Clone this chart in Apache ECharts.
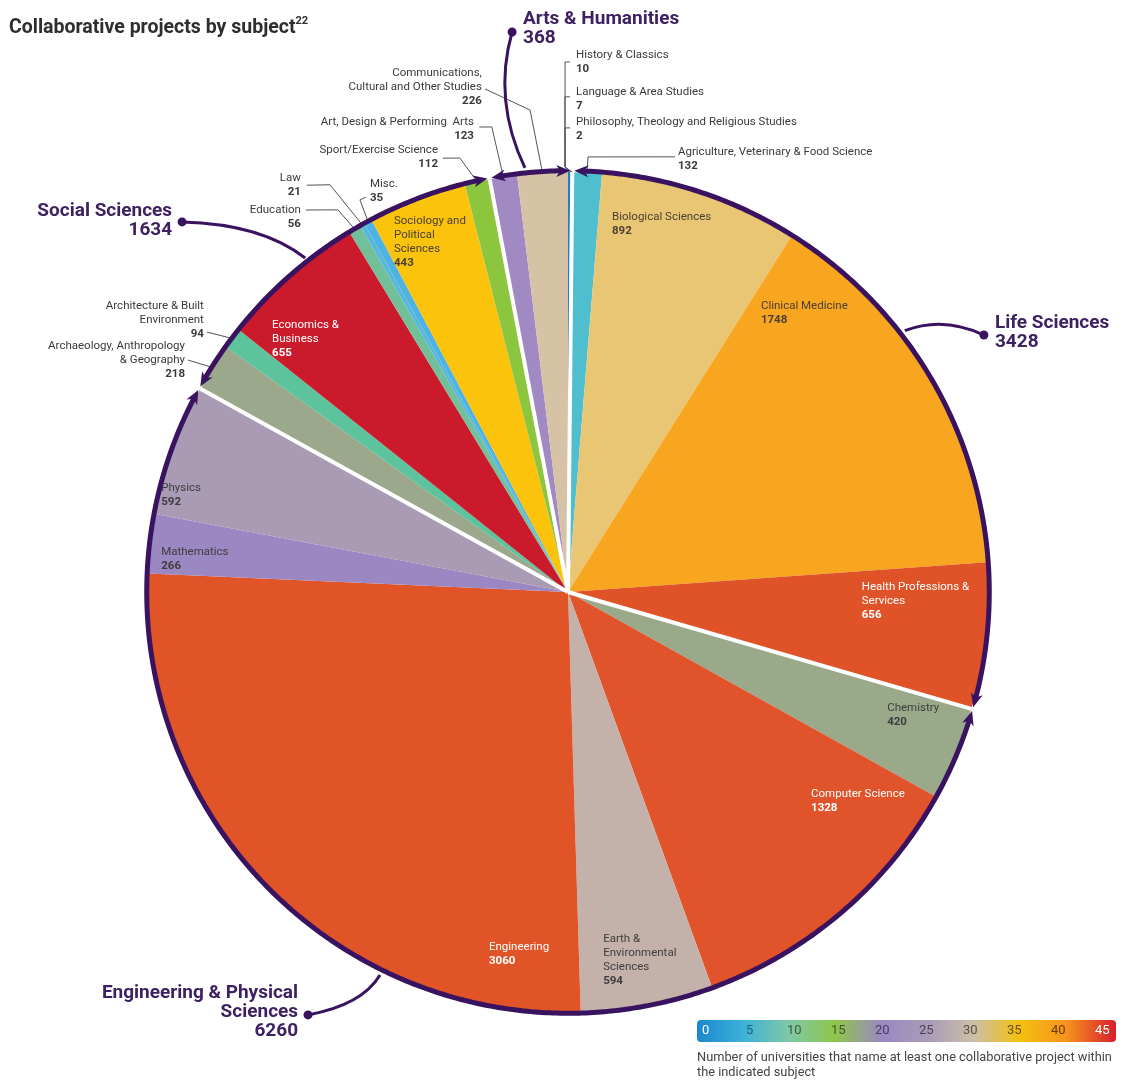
<!DOCTYPE html>
<html>
<head>
<meta charset="utf-8">
<script src="https://cdn.jsdelivr.net/npm/echarts@6/dist/echarts.min.js"></script>
<style>
  html, body { margin: 0; padding: 0; background: #fff; }
  #chart { width: 1122px; height: 1086px; }
</style>
</head>
<body>
<div id="chart"></div>
<script>
// subjects clockwise from 12 o'clock
const subjects = [
  'History & Classics', 'Language & Area Studies', 'Philosophy, Theology and Religious Studies',
  'Agriculture, Veterinary & Food Science', 'Biological Sciences', 'Clinical Medicine',
  'Health Professions &\nServices', 'Chemistry', 'Computer Science',
  'Earth &\nEnvironmental\nSciences', 'Engineering', 'Mathematics', 'Physics',
  'Archaeology, Anthropology\n& Geography', 'Architecture & Built\nEnvironment',
  'Economics &\nBusiness', 'Education', 'Law', 'Misc.', 'Sociology and\nPolitical\nSciences',
  'Sport/Exercise Science', 'Art, Design & Performing  Arts', 'Communications,\nCultural and Other Studies'
]
const projects = [10, 7, 2, 132, 892, 1748, 656, 420, 1328, 594, 3060, 266, 592, 218, 94, 655, 56, 21, 35, 443, 112, 123, 226]

const groupNames = ['Arts & Humanities', 'Life Sciences', 'Engineering & Physical\nSciences', 'Social Sciences']
// first / last subject index of each group (arts wraps round the top)
const groupRanges = [[21, 2], [3, 6], [7, 12], [13, 20]]

const colorTicks = ['0', '5', '10', '15', '20', '25', '30', '35', '40', '45']

// --- styles ---
const sliceColors = [
  '#1f80c8', '#2e9ad6', '#1670bc', '#4fbfcf', '#e9c674', '#f8a51f', '#e05328', '#9aa98a',
  '#e1532a', '#c4b2aa', '#e05428', '#9b87c1', '#aa9bb5', '#9ba88c', '#5cc39d', '#cc1a2d',
  '#72c09a', '#58b8dc', '#4fb3e2', '#fcc30d', '#8cc63f', '#a18ac4', '#d6c3a5'
]
const RING = '#3a1360'
const DARK = '#4a4034'
const GREY = '#3d3d3d'
const OUT = '#3a3a3a'
// label placement: [radius fraction, degrees clockwise from top]
const labelPlace = [
  { at: [1.295, 0.84], leader: [[1.262, 0.22], [1.262, -0.32], [1.012, -0.4]] },
  { at: [1.207, 0.9], leader: [[1.179, 0.23], [1.179, -0.35], [1.012, -0.4]] },
  { at: [1.136, 0.96], leader: [[1.105, 0.25], [1.105, -0.37], [1.012, -0.4]] },
  { at: [1.096, 13.82], leader: [[1.067, 13.82], [1.037, 2.63]] },
  { at: [0.916, 6.57], color: DARK },
  { at: [0.835, 33.37], color: DARK },
  { at: [0.7, 87.7], color: '#fff' },
  { at: [0.803, 108.86], color: GREY },
  { at: [0.742, 128.75], color: '#fff' },
  { at: [0.814, 174.1], color: GREY },
  { at: [0.85, 192.79], color: '#fff' },
  { at: [0.975, 276.59], color: GREY },
  { at: [1.004, 285.26], color: GREY },
  { at: [1.093, 303.45], align: 'right', leader: [[1.06, 301.4]] },
  { at: [1.113, 308.83], align: 'right', leader: [[1.059, 305.76]] },
  { at: [0.96, 312.79], color: '#fff' },
  { at: [1.123, 325.5], align: 'right', leader: [[1.103, 325.55], [1.062, 328.95]] },
  { at: [1.187, 327.6], align: 'right', leader: [[1.151, 327.3], [1.123, 329.7]] },
  { at: [1.095, 334.5], leader: [[1.056, 332.9], [1.057, 332.05]] },
  { at: [0.991, 335.28], color: DARK },
  { at: [1.113, 343.85], align: 'right', leader: [[1.075, 343.9], [1.065, 346.0]] },
  { at: [1.158, 348.85], align: 'right', leader: [[1.127, 349.2], [1.122, 350.7]] },
  { at: [1.269, 350.7], align: 'right', leader: [[1.214, 350.63], [1.151, 355.5]] }
]
const groupPlace = [
  { at: [1.39, 355.58], align: 'left', dot: [1.34, 354.3], cp: [1.185, 351.3], end: [1.015, 354.2] },
  { at: [1.213, 56.93], align: 'left', dot: [1.164, 58.29], cp: [1.109, 53.64], end: [1.015, 52.2] },
  { at: [1.133, 214.56], align: 'right', dot: [1.182, 211.58], cp: [1.099, 206.5], end: [1.016, 206.14] },
  { at: [1.323, 314.56], align: 'right', dot: [1.273, 313.8], cp: [1.14, 320.25], end: [1.012, 321.8] }
]

const total = projects.reduce((a, b) => a + b, 0)
const cum = []
projects.reduce((acc, v, i) => { cum[i] = acc; return acc + v }, 0)
const deg = d => d / 360 * total
const FONT = 'Roboto'

function sum(g) {
  let s = 0
  for (let i = g[0]; ; i = (i + 1) % projects.length) {
    s += projects[i]
    if (i === g[1]) break
  }
  return s
}

function arrow(tip, back) {
  const dx = tip[0] - back[0], dy = tip[1] - back[1]
  const len = Math.hypot(dx, dy)
  const ux = dx / len, uy = dy / len, nx = -uy, ny = ux
  return {
    type: 'polygon',
    shape: { points: [
      [tip[0] + ux, tip[1] + uy],
      [back[0] + nx * 6, back[1] + ny * 6],
      [back[0] + ux * 4, back[1] + uy * 4],
      [back[0] - nx * 6, back[1] - ny * 6]
    ] },
    style: { fill: RING }
  }
}

function renderOverlay(params, api) {
  const P = (r, v) => api.coord([r, v])
  const PD = (r, d) => api.coord([r, deg(d)])
  const c0 = P(0, 0), t0 = P(1, 0)
  const R = Math.hypot(t0[0] - c0[0], t0[1] - c0[1])
  const perPx = total / (2 * Math.PI * R)
  const kids = []

  // white separators between groups
  groupRanges.forEach(g => {
    const a = P(0, cum[g[0]]), b = P(1, cum[g[0]])
    kids.push({ type: 'line', shape: { x1: a[0], y1: a[1], x2: b[0], y2: b[1] }, style: { stroke: '#fff', lineWidth: 4 } })
  })

  // slice labels
  subjects.forEach((name, i) => {
    const lp = labelPlace[i]
    const col = lp.color || OUT
    if (lp.leader) {
      const pts = lp.leader.map(p => PD(p[0], p[1]))
      pts.push(P(1, cum[i] + projects[i] / 2))
      kids.push({ type: 'polyline', shape: { points: pts }, style: { stroke: '#555', lineWidth: 1, fill: 'none' } })
    }
    const t = PD(lp.at[0], lp.at[1])
    const txt = name.split('\n').map(l => '{n|' + l + '}').join('\n') + '\n{v|' + projects[i] + '}'
    kids.push({
      type: 'text', x: t[0], y: t[1],
      style: {
        text: txt, align: lp.align || 'left', verticalAlign: 'top',
        rich: {
          n: { fontSize: 11.5, fontFamily: FONT, lineHeight: 14, fill: col },
          v: { fontSize: 11.5, fontFamily: FONT, fontWeight: 'bold', lineHeight: 14, fill: col }
        }
      }
    })
  })

  // rim arcs with arrow heads
  const rr = 1.003, gap = 3 * perPx, head = 13 * perPx
  groupRanges.forEach(g => {
    let s = cum[g[0]]
    const e = cum[g[1]] + projects[g[1]]
    if (s > e) s -= total
    const a0 = s + gap + head * 0.6, a1 = e - gap - head * 0.6
    const n = Math.ceil((a1 - a0) / deg(0.5))
    const pts = []
    for (let k = 0; k <= n; k++) pts.push(P(rr, a0 + (a1 - a0) * k / n))
    kids.push({ type: 'polyline', shape: { points: pts }, style: { stroke: RING, lineWidth: 5, fill: 'none' } })
    kids.push(arrow(P(rr, s + gap), P(rr, s + gap + head)))
    kids.push(arrow(P(rr, e - gap), P(rr, e - gap - head)))
  })

  // group labels
  groupPlace.forEach((gp, gi) => {
    const d = PD(gp.dot[0], gp.dot[1]), c = PD(gp.cp[0], gp.cp[1]), e = PD(gp.end[0], gp.end[1])
    kids.push({ type: 'bezierCurve', shape: { x1: d[0], y1: d[1], x2: e[0], y2: e[1], cpx1: c[0], cpy1: c[1] }, style: { stroke: RING, lineWidth: 3, fill: 'none' } })
    kids.push({ type: 'circle', shape: { cx: d[0], cy: d[1], r: 4.5 }, style: { fill: RING } })
    const t = PD(gp.at[0], gp.at[1])
    kids.push({
      type: 'text', x: t[0], y: t[1],
      style: {
        text: groupNames[gi] + '\n' + sum(groupRanges[gi]), align: gp.align, verticalAlign: 'top',
        fill: '#3d2160', fontSize: 19, fontWeight: 'bold', fontFamily: FONT, lineHeight: 19
      }
    })
  })

  return { type: 'group', children: kids }
}

const chart = echarts.init(document.getElementById('chart'))

const barX = 697, barY = 1020, barW = 419, barH = 22
const tickTextColors = ['#fff', '#1d5f86', '#3f5a3f', '#3e5a2a', '#4a3c66', '#4d4358', '#5a5046', '#6a5200', '#6b3a00', '#fff']

chart.setOption({
  animation: false,
  backgroundColor: '#fff',
  title: {
    text: '{t|Collaborative projects by subject}{s|22}',
    left: 4, top: 11,
    textStyle: {
      rich: {
        t: { fontSize: 19.5, fontWeight: 'bold', color: '#2e2e2e', fontFamily: FONT, lineHeight: 24 },
        s: { fontSize: 11, fontWeight: 'bold', color: '#2e2e2e', fontFamily: FONT, verticalAlign: 'top', lineHeight: 24 }
      }
    }
  },
  polar: { center: [568, 592], radius: 420 },
  angleAxis: { type: 'value', min: 0, max: total, startAngle: 90, clockwise: true, show: false },
  radiusAxis: { type: 'value', min: 0, max: 1, show: false },
  graphic: [
    {
      type: 'rect', left: barX, top: barY,
      shape: { width: barW, height: barH, r: 4 },
      style: {
        fill: new echarts.graphic.LinearGradient(0, 0, 1, 0, [
          { offset: 0, color: '#1b88cf' },
          { offset: 0.11, color: '#3db1d8' },
          { offset: 0.22, color: '#7ec8a6' },
          { offset: 0.33, color: '#8fc64a' },
          { offset: 0.44, color: '#9a88c2' },
          { offset: 0.55, color: '#a99bb8' },
          { offset: 0.66, color: '#cbbfa8' },
          { offset: 0.77, color: '#f4c10f' },
          { offset: 0.88, color: '#f7941e' },
          { offset: 1, color: '#d81f2c' }
        ])
      }
    },
    ...colorTicks.map((t, k) => ({
      type: 'text', left: barX + 8 + k * 44 - (t.length > 1 ? 6 : 3), top: barY + 4,
      style: { text: t, fill: tickTextColors[k], fontSize: 13, fontFamily: FONT }
    })),
    {
      type: 'text', left: barX, top: barY + 30,
      style: {
        text: 'Number of universities that name at least one collaborative project within\nthe indicated subject',
        fill: '#444', fontSize: 12.8, fontFamily: FONT, lineHeight: 15
      }
    }
  ],
  series: [
    {
      type: 'pie',
      center: [568, 592],
      radius: 420,
      startAngle: 90,
      clockwise: true,
      silent: true,
      z: 1,
      label: { show: false },
      labelLine: { show: false },
      emphasis: { disabled: true },
      itemStyle: { borderWidth: 0 },
      data: subjects.map((s, i) => ({ name: s, value: projects[i], itemStyle: { color: sliceColors[i] } }))
    },
    {
      type: 'custom',
      coordinateSystem: 'polar',
      silent: true,
      z: 10,
      data: [[1, 0]],
      renderItem: renderOverlay
    }
  ]
})
</script>
</body>
</html>
